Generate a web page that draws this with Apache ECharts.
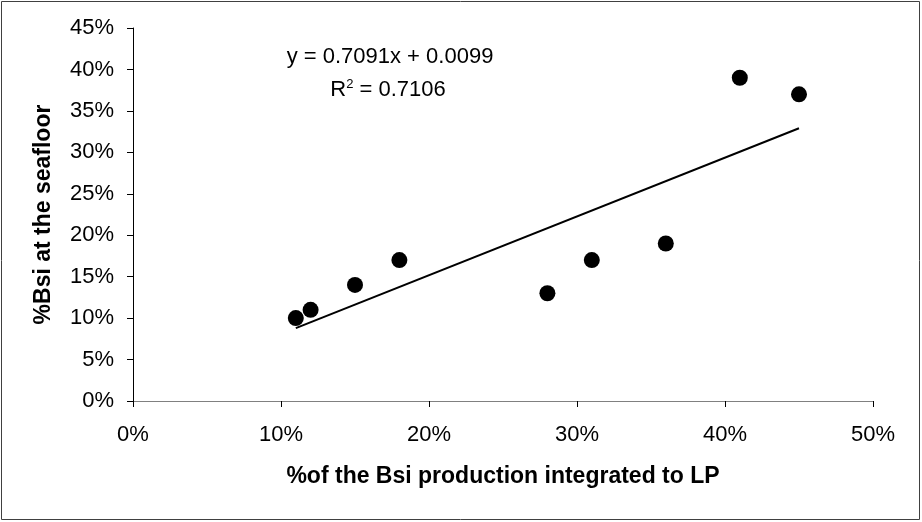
<!DOCTYPE html>
<html>
<head>
<meta charset="utf-8">
<script src="https://cdn.jsdelivr.net/npm/echarts@6/dist/echarts.min.js"></script>
<style>
html,body{margin:0;padding:0;background:#fff;}
#c{width:922px;height:522px;}
</style>
</head>
<body>
<div id="c"></div>
<script>
// Data (fractions)
var pointsX = [0.11, 0.12, 0.15, 0.18, 0.28, 0.31, 0.36, 0.41, 0.45];
var pointsY = [0.10, 0.11, 0.14, 0.17, 0.13, 0.17, 0.19, 0.39, 0.37];
var trendX = [0.11, 0.45];
var trendY = [0.0879, 0.3290];
var equationText = 'y = 0.7091x + 0.0099';
var r2Value = '0.7106';
var xTitle = '%of the Bsi production integrated to LP';
var yTitle = '%Bsi at the seafloor';

var FONT = '"Liberation Sans", Arial, sans-serif';
var chart = echarts.init(document.getElementById('c'));
function pct(v){ return Math.round(v*100) + '%'; }

chart.setOption({
  animation: false,
  backgroundColor: '#fff',
  grid: { left: 133, right: 49, top: 28, bottom: 121, containLabel: false },
  xAxis: {
    type: 'value', min: 0, max: 0.5, interval: 0.1,
    name: xTitle, nameLocation: 'middle', nameGap: 64,
    nameTextStyle: { fontFamily: FONT, fontSize: 23, fontWeight: 'bold', color: '#000' },
    axisLine: { show: true, onZero: false, lineStyle: { color: '#808080', width: 1 } },
    axisTick: { show: true, inside: false, length: 6, lineStyle: { color: '#000' } },
    axisLabel: { formatter: pct, fontFamily: FONT, fontSize: 22, color: '#000', margin: 23 },
    splitLine: { show: false }
  },
  yAxis: {
    type: 'value', min: 0, max: 0.45, interval: 0.05,
    name: yTitle, nameLocation: 'middle', nameGap: 78, nameRotate: 90,
    nameTextStyle: { fontFamily: FONT, fontSize: 23, fontWeight: 'bold', color: '#000' },
    axisLine: { show: true, onZero: false, lineStyle: { color: '#000', width: 1 } },
    axisTick: { show: true, inside: false, length: 6, lineStyle: { color: '#000' } },
    axisLabel: { formatter: pct, fontFamily: FONT, fontSize: 22, color: '#000', margin: 19 },
    splitLine: { show: false }
  },
  series: [
    {
      type: 'line',
      data: trendX.map(function(x,i){ return [x, trendY[i]]; }),
      showSymbol: false, symbol: 'none',
      lineStyle: { color: '#000', width: 2 },
      z: 2
    },
    {
      type: 'scatter',
      data: pointsX.map(function(x,i){ return [x, pointsY[i]]; }),
      symbol: 'circle', symbolSize: 16,
      itemStyle: { color: '#000', opacity: 1 },
      z: 3
    }
  ],
  graphic: [
    { type: 'rect', shape: { x: 1.5, y: 1.5, width: 918, height: 518 },
      style: { fill: 'none', stroke: '#404040', lineWidth: 1 }, silent: true, z: 10 },
    { type: 'text', x: 390, y: 57,
      style: { text: equationText, font: '22px ' + FONT, fill: '#000', align: 'center', verticalAlign: 'middle' } },
    { type: 'text', x: 388, y: 90,
      style: {
        text: '{a|R}{s|2}{a| = ' + r2Value + '}',
        align: 'center', verticalAlign: 'middle',
        rich: {
          a: { fontFamily: FONT, fontSize: 22, color: '#000' },
          s: { fontFamily: FONT, fontSize: 13, color: '#000', padding: [0, 0, 12, 0] }
        }
      } }
  ]
});
</script>
</body>
</html>
